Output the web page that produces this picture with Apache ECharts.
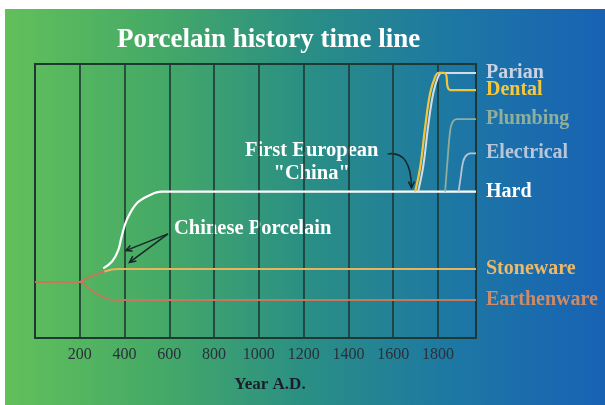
<!DOCTYPE html>
<html><head><meta charset="utf-8">
<script src="https://cdn.jsdelivr.net/npm/echarts@6/dist/echarts.min.js"></script>
<style>html,body{margin:0;padding:0;background:#fff}#c{width:605px;height:405px}</style>
</head><body><div id="c"></div>
<script>
// ---- data (year, relative level) ----
const xTickLabels = [200, 400, 600, 800, 1000, 1200, 1400, 1600, 1800];
const earthenware = [[0,20.4],[200,20.4],[245,17.8],[290,15.5],[335,14.1],[370,13.9],[1970,13.9]];
const stonewareEarly = [[200,20.4],[245,22.3],[290,23.7],[320,24.6]];
const stoneware = [[310,24.3],[340,24.9],[371,25.2],[1970,25.2]];
const hard = [[305,25.4],[345,28.0],[372,32.1],[387,37.0],[410,43.1],[455,49.2],[514,52.2],[566,53.4],[1970,53.4]];
const parian = [[1711,53.4],[1734,62.5],[1756,77.1],[1779,89.3],[1801,95.4],[1815,96.7],[1970,96.7]];
const dental = [[1698,53.4],[1721,62.5],[1743,77.1],[1765,89.3],[1788,95.4],[1803,96.8],[1825,96.8],[1837,96.0],[1843,91.7],[1855,90.5],[1970,90.5]];
const plumbing = [[1832,53.4],[1843,65.0],[1855,75.9],[1866,78.9],[1884,79.9],[1970,79.9]];
const electrical = [[1892,53.4],[1902,58.9],[1911,63.8],[1922,66.2],[1944,67.4],[1970,67.4]];

const SERIF = '"Liberation Serif","DejaVu Serif",serif';
const chart = echarts.init(document.getElementById('c'), null, {renderer: 'canvas'});

function mk(name, data, color, labelColor, width, showLabel) {
  return {
    name: name, type: 'line', data: data, showSymbol: false, symbol: 'none',
    smooth: 0.4, animation: false,
    lineStyle: {color: color, width: width},
    endLabel: {show: showLabel, formatter: '{a}', distance: 10, color: labelColor,
      fontFamily: SERIF, fontWeight: 'bold', fontSize: 20}
  };
}

chart.setOption({
  animation: false,
  title: {text: 'Porcelain history time line', left: 117, top: 27, padding: 0,
    textStyle: {color: '#ffffff', fontFamily: SERIF, fontWeight: 'bold', fontSize: 27}},
  grid: {left: 35, right: 129, top: 64, bottom: 67, show: true, borderColor: '#1e3834', borderWidth: 2, backgroundColor: 'transparent'},
  xAxis: {type: 'value', min: 0, max: 1970, interval: 200,
    axisLine: {show: false}, axisTick: {show: false},
    splitLine: {show: true, lineStyle: {color: '#1e3834', width: 1.6}},
    axisLabel: {margin: 9, color: '#2a2f3a', fontFamily: SERIF, fontSize: 16,
      formatter: function (v) { return xTickLabels.indexOf(v) >= 0 ? String(v) : ''; }},
    name: 'Year A.D.', nameLocation: 'middle', nameGap: 38,
    nameTextStyle: {color: '#1a1d2a', fontFamily: SERIF, fontWeight: 'bold', fontSize: 17, padding: [0, 0, 0, 29]}
  },
  yAxis: {type: 'value', min: 0, max: 100, show: false, splitLine: {show: false}},
  series: [
    mk('Earthenware', earthenware, '#c2795c', '#cf8a66', 2, true),
    mk('EarthenwareBranch', stonewareEarly, '#c2795c', '#c2795c', 2, false),
    mk('Stoneware', stoneware, '#e9b45e', '#ebb96a', 2, true),
    mk('Hard', hard, '#ffffff', '#ffffff', 2.2, true),
    mk('Parian', parian, '#d4dce6', '#c9d3e2', 2, true),
    mk('Dental', dental, '#f3c53a', '#f5c83c', 2.2, true),
    mk('Plumbing', plumbing, '#8fae9c', '#8fae9c', 1.8, true),
    mk('Electrical', electrical, '#b7c4d6', '#b9c6d8', 1.8, true)
  ],
  graphic: {elements: [{
    id: 'bg', type: 'rect', z: -100, silent: true,
    shape: {x: 5, y: 9, width: 600, height: 396},
    style: {fill: new echarts.graphic.LinearGradient(0, 0, 1, 0, [
      {offset: 0, color: '#62c05a'}, {offset: 0.25, color: '#46aa66'},
      {offset: 0.5, color: '#2a8f84'}, {offset: 0.75, color: '#1d77a4'},
      {offset: 1, color: '#1862b4'}])}
  }]}
});

// annotations anchored in data space
function px(p) { return chart.convertToPixel({gridIndex: 0}, p); }
function head(tip, from, len) {
  const a = Math.atan2(tip[1] - from[1], tip[0] - from[0]);
  const s = 0.45;
  return [[tip[0] - len * Math.cos(a - s), tip[1] - len * Math.sin(a - s)], tip,
          [tip[0] - len * Math.cos(a + s), tip[1] - len * Math.sin(a + s)]];
}
const ink = '#17262a';
const F = 'bold 20.5px ' + SERIF;
const t1 = px([1236, 68.2]), t2 = px([1236, 59.9]);
const aS = px([1575, 67.2]), aC1 = px([1650, 68.0]), aC2 = px([1680, 63.5]), aE = px([1682, 54.8]);
const cp = px([621, 39.8]);
const cS = px([594, 38.0]), cE1 = px([405, 31.9]), cE2 = px([422, 27.6]);
const els = [
  {id: 'fe1', type: 'text', x: t1[0], y: t1[1], style: {text: 'First European', fill: '#ffffff', font: F, textAlign: 'center', textVerticalAlign: 'middle'}},
  {id: 'fe2', type: 'text', x: t2[0], y: t2[1], style: {text: '"China"', fill: '#ffffff', font: F, textAlign: 'center', textVerticalAlign: 'middle'}},
  {id: 'fea', type: 'bezierCurve', shape: {x1: aS[0], y1: aS[1], cpx1: aC1[0], cpy1: aC1[1], cpx2: aC2[0], cpy2: aC2[1], x2: aE[0], y2: aE[1]}, style: {stroke: ink, lineWidth: 1.5, fill: null}},
  {id: 'feh', type: 'polyline', shape: {points: head(aE, aC2, 7)}, style: {stroke: ink, lineWidth: 1.5, fill: null}},
  {id: 'cpt', type: 'text', x: cp[0], y: cp[1], style: {text: 'Chinese Porcelain', fill: '#ffffff', font: F, textAlign: 'left', textVerticalAlign: 'middle'}},
  {id: 'cl1', type: 'line', shape: {x1: cS[0], y1: cS[1], x2: cE1[0], y2: cE1[1]}, style: {stroke: ink, lineWidth: 1.5}},
  {id: 'cl2', type: 'line', shape: {x1: cS[0], y1: cS[1], x2: cE2[0], y2: cE2[1]}, style: {stroke: ink, lineWidth: 1.5}},
  {id: 'ch1', type: 'polyline', shape: {points: head(cE1, cS, 7)}, style: {stroke: ink, lineWidth: 1.5, fill: null}},
  {id: 'ch2', type: 'polyline', shape: {points: head(cE2, cS, 7)}, style: {stroke: ink, lineWidth: 1.5, fill: null}}
];
chart.setOption({graphic: {elements: els}});
</script>
</body></html>
